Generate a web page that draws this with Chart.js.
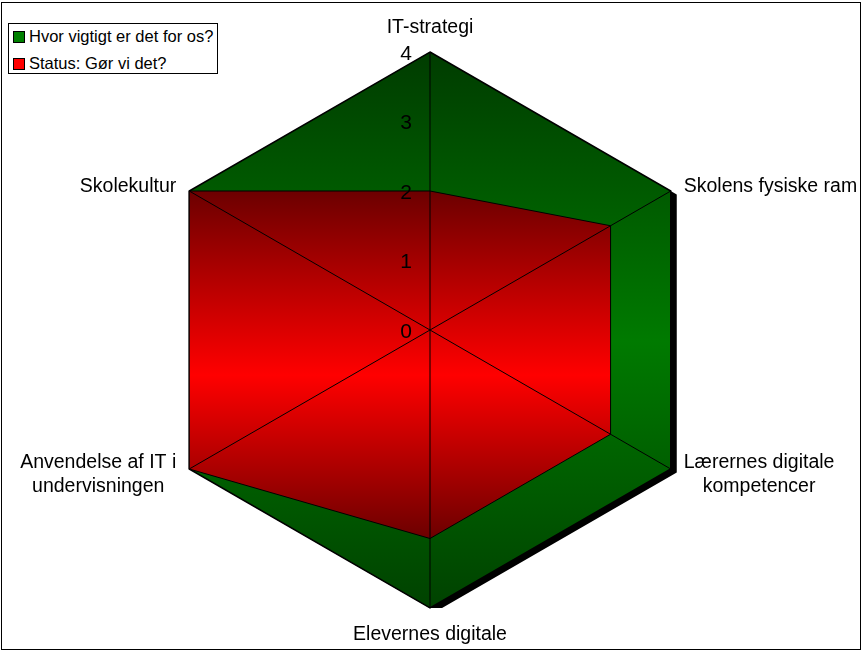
<!DOCTYPE html>
<html>
<head>
<meta charset="utf-8">
<script src="https://cdn.jsdelivr.net/npm/chart.js@4"></script>
<style>
body { margin: 0; background: #fff; }
#wrap { position: relative; width: 863px; height: 652px; }
#frame { position: absolute; left: 1px; top: 2px; width: 860px; height: 648px; box-sizing: border-box; border: 1px solid #000; pointer-events: none; }
#legend { position: absolute; left: 8px; top: 23px; width: 210px; height: 51px; box-sizing: border-box; border: 1px solid #000; background: #fff; font: 16.5px "Liberation Sans", Arial, sans-serif; color: #000; }
.row { position: absolute; left: 4px; height: 20px; line-height: 20px; white-space: nowrap; }
.sw { display: inline-block; width: 10px; height: 10px; border: 1px solid #000; margin-right: 4px; vertical-align: -1px; }
</style>
</head>
<body>
<div id="wrap">
  <canvas id="radar" width="863" height="652"></canvas>
  <div id="frame"></div>
  <div id="legend"></div>
</div>
<script>
const categories = ['IT-strategi', 'Skolens fysiske ram', ['Lærernes digitale', 'kompetencer'], 'Elevernes digitale', ['Anvendelse af IT i', 'undervisningen'], 'Skolekultur'];
const seriesNames = ['Hvor vigtigt er det for os?', 'Status: Gør vi det?'];
const importance = [4, 4, 4, 4, 4, 4];
const status = [2, 3, 3, 3, 4, 4];
const tickLabels = ['0', '1', '2', '3', '4'];
const swatchColors = ['#008000', '#ff0000'];
const greenStops = [[0, '#003c00'], [0.52, '#007a00'], [1, '#004200']];
const redStops = [[0, '#6c0000'], [0.53, '#ff0000'], [1, '#6c0000']];

// legend
const legendBox = document.getElementById('legend');
seriesNames.forEach((name, i) => {
  const row = document.createElement('div');
  row.className = 'row';
  row.style.top = (2 + i * 27) + 'px';
  row.innerHTML = '<span class="sw" style="background:' + swatchColors[i] + '"></span>' + name;
  legendBox.appendChild(row);
});

// vertical gradient spanning the polygon of a dataset
function polyGradient(stops, fallback) {
  return function (c) {
    const chart = c.chart;
    const scale = chart.scales && chart.scales.r;
    if (!scale || !scale.drawingArea || c.datasetIndex === undefined) return fallback;
    const data = chart.data.datasets[c.datasetIndex].data;
    let top = Infinity, bottom = -Infinity;
    data.forEach((v, i) => {
      const p = scale.getPointPositionForValue(i, v);
      top = Math.min(top, p.y);
      bottom = Math.max(bottom, p.y);
    });
    if (!isFinite(top) || bottom - top < 1) return fallback;
    const g = chart.ctx.createLinearGradient(0, top, 0, bottom);
    stops.forEach(s => g.addColorStop(s[0], s[1]));
    return g;
  };
}

// hard black drop shadow under the fill of the first series only
// (the filler draws fills in its own beforeDatasetDraw, which runs before ours)
const shadowPlugin = {
  id: 'shadow',
  beforeDatasetsDraw(chart) {
    const ctx = chart.ctx;
    ctx.save();
    ctx.shadowColor = '#000';
    ctx.shadowOffsetX = 6;
    ctx.shadowOffsetY = 3.5;
    ctx.shadowBlur = 0;
  },
  beforeDatasetDraw(chart) {
    chart.ctx.shadowColor = 'rgba(0,0,0,0)';
  },
  afterDatasetsDraw(chart) {
    chart.ctx.restore();
  }
};

// tick labels left of the vertical axis, point labels like the original
const labelPlugin = {
  id: 'labels',
  afterDraw(chart) {
    const scale = chart.scales.r;
    const ctx = chart.ctx;
    ctx.save();
    ctx.fillStyle = '#000';
    ctx.textBaseline = 'alphabetic';

    ctx.font = '21px "Liberation Sans", Arial, sans-serif';
    ctx.textAlign = 'right';
    tickLabels.forEach(t => {
      const d = scale.getDistanceFromCenterForValue(Number(t));
      ctx.fillText(t, scale.xCenter - 18, scale.yCenter - d + 7.5);
    });

    const fs = 19.5, lh = 24, capMid = 7;
    ctx.font = fs + 'px "Liberation Sans", Arial, sans-serif';
    ctx.textAlign = 'left';
    categories.forEach((lab, i) => {
      const lines = Array.isArray(lab) ? lab : [lab];
      const p = scale.getPointPosition(i, scale.drawingArea + 15);
      const ang = scale.getIndexAngle(i);
      const sx = Math.sin(ang), cy = Math.cos(ang);
      const w = Math.max(...lines.map(l => ctx.measureText(l).width));
      let left;
      if (Math.abs(sx) < 0.01) left = p.x - w / 2;
      else if (sx > 0) left = p.x;
      else left = p.x - w;
      let firstMid;
      if (cy > 0.99) firstMid = p.y - 4 - capMid - (lines.length - 1) * lh;
      else if (cy < -0.99) firstMid = p.y + 3 + capMid;
      else if (lines.length === 1) firstMid = p.y + 1.5;
      else firstMid = p.y - 4 - (lines.length - 1) * lh / 2;
      lines.forEach((l, k) => {
        const lw = ctx.measureText(l).width;
        ctx.fillText(l, left + (w - lw) / 2, firstMid + k * lh + capMid);
      });
    });
    ctx.restore();
  }
};

new Chart(document.getElementById('radar'), {
  type: 'radar',
  data: {
    labels: categories,
    datasets: [{
      label: seriesNames[0],
      data: importance,
      backgroundColor: polyGradient(greenStops, '#006000'),
      borderColor: '#000',
      borderWidth: 1.5,
      fill: true,
      pointRadius: 0,
      order: 1
    }, {
      label: seriesNames[1],
      data: status,
      backgroundColor: polyGradient(redStops, '#e00000'),
      borderColor: '#000',
      borderWidth: 1,
      fill: true,
      pointRadius: 0,
      order: 0
    }]
  },
  options: {
    responsive: false,
    animation: false,
    layout: { padding: { top: 52, bottom: 44, left: 0, right: 3 } },
    plugins: {
      legend: { display: false },
      tooltip: { enabled: false }
    },
    scales: {
      r: {
        min: 0,
        max: 4,
        ticks: { display: false, stepSize: 1 },
        grid: { display: false, z: 1 },
        angleLines: { display: true, color: '#000', lineWidth: 1 },
        pointLabels: { display: false }
      }
    }
  },
  plugins: [shadowPlugin, labelPlugin]
});
</script>
</body>
</html>
